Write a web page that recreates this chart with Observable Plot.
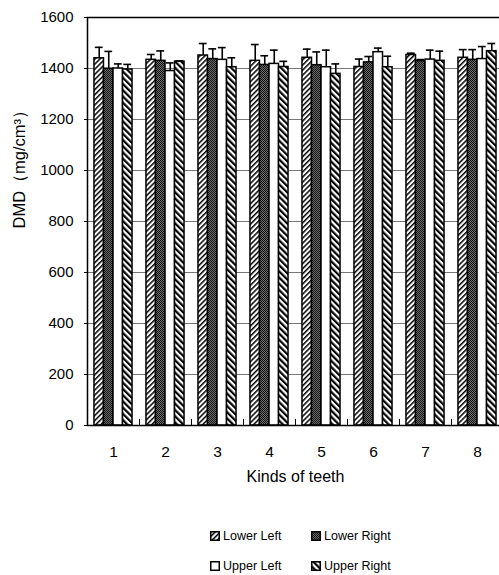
<!DOCTYPE html>
<html>
<head>
<meta charset="utf-8">
<script src="https://cdn.jsdelivr.net/npm/d3@7"></script>
<script src="https://cdn.jsdelivr.net/npm/@observablehq/plot@0.6"></script>
<style>
  body { margin: 0; background: #fff; font-family: "Liberation Sans", Arial, sans-serif; color: #000; }
  #wrap { position: relative; width: 499px; height: 575px; overflow: hidden; }
  #chart svg { display: block; }
  .key { position: absolute; display: flex; align-items: center; font-size: 12.5px; line-height: 1; white-space: nowrap; }
  .key svg { margin-right: 3px; display: block; }
</style>
</head>
<body>
<!-- shared fill patterns for the bars and the legend swatches -->
<svg width="0" height="0" style="position:absolute">
  <defs>
    <pattern id="fillLowerLeft" patternUnits="userSpaceOnUse" width="3.6" height="3.6" patternTransform="rotate(45)">
      <rect width="3.6" height="3.6" fill="#fff"/>
      <rect width="1.5" height="3.6" fill="#000"/>
    </pattern>
    <pattern id="fillLowerRight" patternUnits="userSpaceOnUse" width="2" height="2">
      <rect width="2" height="2" fill="#6e6e6e"/>
      <rect x="0" y="0" width="1" height="1" fill="#111"/>
      <rect x="1" y="1" width="1" height="1" fill="#111"/>
    </pattern>
    <pattern id="fillUpperRight" patternUnits="userSpaceOnUse" width="4.4" height="4.4" patternTransform="rotate(-45)">
      <rect width="4.4" height="4.4" fill="#fff"/>
      <rect width="2.2" height="4.4" fill="#000"/>
    </pattern>
  </defs>
</svg>

<div id="wrap">
  <div id="chart"></div>
</div>

<script>
// Dentine mineral density by kind of tooth and jaw quadrant (mean and SD)
const teeth = [1, 2, 3, 4, 5, 6, 7, 8];
const quadrants = ["Lower Left", "Lower Right", "Upper Left", "Upper Right"];

const lowerLeft    = [1440, 1434, 1451, 1430, 1442, 1406, 1453, 1442];
const lowerLeftSD  = [43, 21, 47, 64, 34, 31, 7, 32];
const lowerRight   = [1399, 1430, 1437, 1414, 1413, 1424, 1429, 1434];
const lowerRightSD = [68, 39, 40, 36, 52, 23, 6, 40];
const upperLeft    = [1400, 1390, 1434, 1418, 1405, 1464, 1435, 1437];
const upperLeftSD  = [18, 32, 48, 54, 67, 16, 37, 49];
const upperRight   = [1396, 1427, 1405, 1406, 1379, 1405, 1430, 1468];
const upperRightSD = [20, 3, 37, 22, 39, 43, 38, 30];

const yTicks = [0, 200, 400, 600, 800, 1000, 1200, 1400, 1600];
const groupBounds = [1.5, 2.5, 3.5, 4.5, 5.5, 6.5, 7.5];

const means = [lowerLeft, lowerRight, upperLeft, upperRight];
const sds = [lowerLeftSD, lowerRightSD, upperLeftSD, upperRightSD];
const fills = ["url(#fillLowerLeft)", "url(#fillLowerRight)", "#fff", "url(#fillUpperRight)"];

const rows = teeth.flatMap((t, i) =>
  quadrants.map((q, k) => ({tooth: t, quadrant: q, k, mean: means[k][i], sd: sds[k][i]}))
);

// bar layout inside each tooth group, in x-scale units (one unit per tooth)
const BW = 0.183;
const CAP = 0.075;
const left = d => d.tooth + (d.k - 2) * BW;
const mid = d => left(d) + BW / 2;

const chart = Plot.plot({
  width: 499,
  height: 500,
  marginTop: 17,
  marginBottom: 75,
  marginLeft: 87,
  marginRight: -4,
  style: {fontFamily: '"Liberation Sans", Arial, sans-serif', fontSize: "15px", color: "#000", background: "#fff"},
  x: {type: "linear", domain: [0.5, 8.5]},
  y: {domain: [0, 1600]},
  marks: [
    Plot.ruleY(yTicks.slice(1, -1), {stroke: "#777", strokeWidth: 1}),
    Plot.rectY(rows, {
      x1: left,
      x2: d => left(d) + BW,
      y1: 0,
      y2: "mean",
      fill: d => fills[d.k],
      stroke: "#000",
      strokeWidth: 1.5
    }),
    Plot.ruleX(rows, {x: mid, y1: "mean", y2: d => d.mean + d.sd, stroke: "#000", strokeWidth: 1.6}),
    Plot.ruleY(rows, {x1: d => mid(d) - CAP, x2: d => mid(d) + CAP, y: d => d.mean + d.sd, stroke: "#000", strokeWidth: 1.6}),
    Plot.ruleX(groupBounds, {y1: 0, y2: 24, stroke: "#000", strokeWidth: 1}),
    Plot.axisY({ticks: yTicks, tickSize: 3, tickPadding: 11, tickFormat: d => String(d), label: null, fontSize: 15}),
    Plot.axisX({ticks: teeth, tickSize: 0, tickPadding: 20, tickFormat: d => String(d), label: null, fontSize: 15.5}),
    Plot.text(["DMD（mg/cm³）"], {frameAnchor: "left", rotate: -90, dx: -68, dy: 7, fontSize: 16.5, fill: "#000"}),
    Plot.text(["Kinds of teeth"], {frameAnchor: "bottom", dy: 56, fontSize: 16, fill: "#000"}),
    Plot.frame({stroke: "#000", strokeWidth: 1.5})
  ]
});
document.getElementById("chart").append(chart);

// legend: two rows of two entries below the plot
const keyPos = [[210, 536], [311, 536], [210, 566], [311, 566]];
const wrap = document.getElementById("wrap");
quadrants.forEach((q, k) => {
  const item = document.createElement("div");
  item.className = "key";
  item.style.left = keyPos[k][0] + "px";
  item.style.top = (keyPos[k][1] - 6) + "px";
  item.innerHTML =
    `<svg width="10" height="10"><rect x="0.75" y="0.75" width="8.5" height="8.5" fill="${fills[k]}" stroke="#000" stroke-width="1.5"/></svg><span>${q}</span>`;
  wrap.append(item);
});
</script>
</body>
</html>
